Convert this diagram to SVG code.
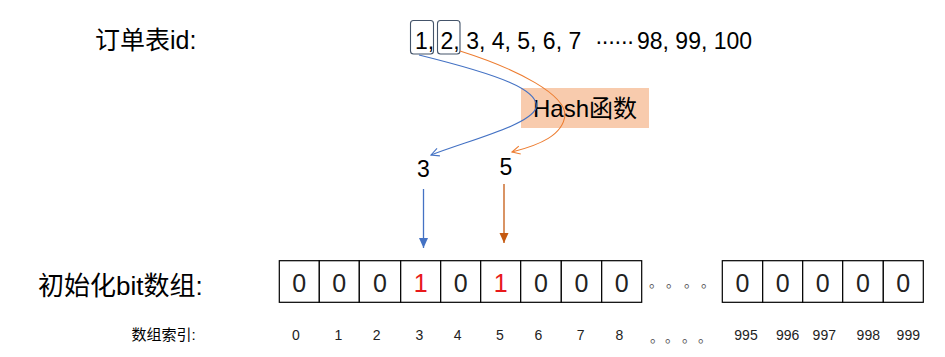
<svg xmlns="http://www.w3.org/2000/svg" width="945" height="357" viewBox="0 0 945 357">
<style>
text{font-family:"Liberation Sans","Noto Sans CJK SC",sans-serif;fill:#000}
.big{font-size:25px}
.num{font-size:23px}
.cell{fill:#fff;stroke:#000;stroke-width:1.2}
.bit{font-size:25px;text-anchor:middle;fill:#222}
.red{fill:#e8191b}
.idx{font-size:14px;text-anchor:middle;fill:#222}
.dot{font-size:14px;fill:#555}
.sel{fill:none;stroke:#44546a;stroke-width:1.1}
</style>
<defs>
<marker id="vb" markerWidth="10" markerHeight="10" refX="9" refY="5" orient="auto" markerUnits="userSpaceOnUse"><path d="M1,1 L9,5 L1,9" fill="none" stroke="#4472c4" stroke-width="1.1"/></marker>
<marker id="vo" markerWidth="10" markerHeight="10" refX="9" refY="5" orient="auto" markerUnits="userSpaceOnUse"><path d="M1,1 L9,5 L1,9" fill="none" stroke="#ed7d31" stroke-width="1.1"/></marker>
<marker id="tb" markerWidth="12" markerHeight="10" refX="10" refY="5" orient="auto" markerUnits="userSpaceOnUse"><path d="M0,0.5 L10,5 L0,9.5 Z" fill="#4472c4"/></marker>
<marker id="to" markerWidth="12" markerHeight="10" refX="10" refY="5" orient="auto" markerUnits="userSpaceOnUse"><path d="M0,0.5 L10,5 L0,9.5 Z" fill="#c55a11"/></marker>
</defs>

<g id="label-order"><text class="big" x="95" y="49">订单表id:</text></g>
<g id="ids">
<text class="num" y="49"><tspan x="415">1, 2, 3, 4, 5, 6, 7</tspan><tspan x="595" letter-spacing="-1.3">······</tspan><tspan x="637">98, 99, 100</tspan></text>
<rect class="sel" x="410.5" y="20.5" width="23" height="33.5" rx="3"/>
<rect class="sel" x="437.5" y="20.5" width="22.5" height="33.5" rx="3"/>
</g>
<g id="hash"><rect x="521" y="88" width="128" height="40" fill="#f8cbad"/><text x="533" y="117" font-size="24">Hash函数</text></g>
<g id="r3"><text class="num" x="423.5" y="177" text-anchor="middle">3</text></g>
<g id="r5"><text class="num" x="506" y="175" text-anchor="middle">5</text></g>

<g id="connectors" fill="none">
<path d="M419,55 C500,75 540,90 536,108 C530,125 470,140 431,155" stroke="#4472c4" stroke-width="1.1" marker-end="url(#vb)"/>
<path d="M460,51 C520,70 565,95 565,115 C563,135 540,145 512,152" stroke="#ed7d31" stroke-width="1.1" marker-end="url(#vo)"/>
<path d="M423.5,189 L423.5,248" stroke="#4472c4" stroke-width="1.3" marker-end="url(#tb)"/>
<path d="M504,184 L504,243" stroke="#c55a11" stroke-width="1.3" marker-end="url(#to)"/>
</g>

<g id="label-bits"><text x="38" y="295" font-size="26">初始化bit数组:</text></g>
<g id="bits1">
<rect class="cell" x="279.3" y="260.7" width="40" height="41.6"/>
<rect class="cell" x="319.3" y="260.7" width="40" height="41.6"/>
<rect class="cell" x="359.3" y="260.7" width="41.4" height="41.6"/>
<rect class="cell" x="400.7" y="260.7" width="40" height="41.6"/>
<rect class="cell" x="440.7" y="260.7" width="40" height="41.6"/>
<rect class="cell" x="480.7" y="260.7" width="40" height="41.6"/>
<rect class="cell" x="520.7" y="260.7" width="40.6" height="41.6"/>
<rect class="cell" x="561.3" y="260.7" width="40.4" height="41.6"/>
<rect class="cell" x="601.7" y="260.7" width="40" height="41.6"/>
<text class="bit" x="299.3" y="292">0</text>
<text class="bit" x="339.3" y="292">0</text>
<text class="bit" x="380" y="292">0</text>
<text class="bit red" x="420.7" y="292">1</text>
<text class="bit" x="460.7" y="292">0</text>
<text class="bit red" x="500.7" y="292">1</text>
<text class="bit" x="541" y="292">0</text>
<text class="bit" x="581.5" y="292">0</text>
<text class="bit" x="621.7" y="292">0</text>
</g>
<g id="gap"><text class="dot" y="287"><tspan x="649">。</tspan><tspan x="666">。</tspan><tspan x="684">。</tspan><tspan x="701">。</tspan></text></g>
<g id="bits2">
<rect class="cell" x="722.3" y="260.7" width="40.4" height="41.6"/>
<rect class="cell" x="762.7" y="260.7" width="40" height="41.6"/>
<rect class="cell" x="802.7" y="260.7" width="40" height="41.6"/>
<rect class="cell" x="842.7" y="260.7" width="40.6" height="41.6"/>
<rect class="cell" x="883.3" y="260.7" width="40" height="41.6"/>
<text class="bit" x="742.5" y="292">0</text>
<text class="bit" x="782.7" y="292">0</text>
<text class="bit" x="822.7" y="292">0</text>
<text class="bit" x="863" y="292">0</text>
<text class="bit" x="903.3" y="292">0</text>
</g>

<g id="label-index"><text x="131.5" y="340" font-size="15" fill="#222">数组索引:</text></g>
<g id="indices">
<text class="idx" x="296" y="340">0</text>
<text class="idx" x="338.3" y="340">1</text>
<text class="idx" x="376.7" y="340">2</text>
<text class="idx" x="419.3" y="340">3</text>
<text class="idx" x="457.7" y="340">4</text>
<text class="idx" x="500" y="340">5</text>
<text class="idx" x="538.3" y="340">6</text>
<text class="idx" x="580.7" y="340">7</text>
<text class="idx" x="619.3" y="340">8</text>
<text class="dot" y="342"><tspan x="650">。</tspan><tspan x="665">。</tspan><tspan x="682">。</tspan><tspan x="698">。</tspan></text>
<text class="idx" x="746" y="340">995</text>
<text class="idx" x="787.7" y="340">996</text>
<text class="idx" x="824.3" y="340">997</text>
<text class="idx" x="868.3" y="340">998</text>
<text class="idx" x="908.3" y="340">999</text>
</g>
</svg>
